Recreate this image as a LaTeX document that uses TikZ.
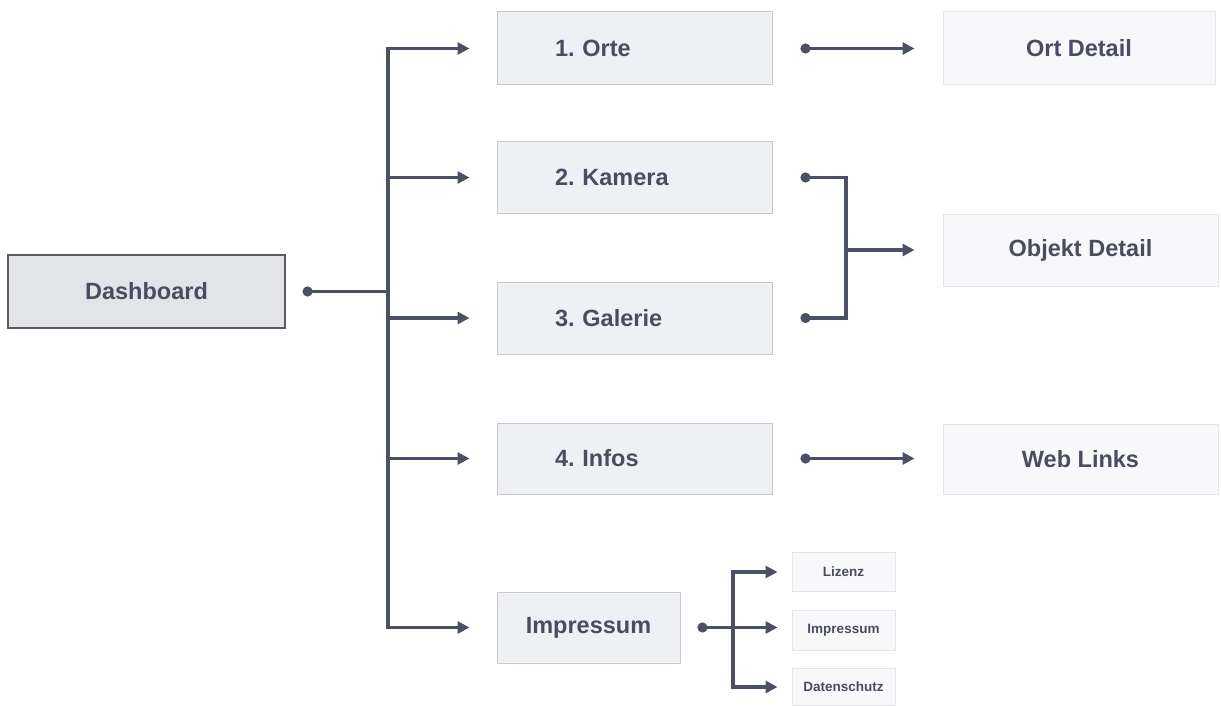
\documentclass[tikz,border=0pt]{standalone}
\usepackage{fontspec}
\setmainfont{Liberation Sans}
\usetikzlibrary{arrows.meta,calc}
\definecolor{linec}{HTML}{4B5067}
\definecolor{textc}{HTML}{494D60}
\definecolor{mainfill}{HTML}{E3E4E8}
\definecolor{mainborder}{HTML}{5C5C60}
\definecolor{pagefill}{HTML}{EFF0F4}
\definecolor{pageborder}{HTML}{C9C9CC}
\definecolor{subfill}{HTML}{F8F8FA}
\definecolor{subborder}{HTML}{E6E6E8}
\frenchspacing
\tikzset{
  x=1pt, y=-1pt,
  box/.style={rectangle, inner sep=0pt, font=\bfseries\fontsize{23.5}{26}\selectfont, text=textc},
  mainbox/.style={box, fill=mainfill, draw=mainborder, line width=1.2pt},
  pagebox/.style={box, fill=pagefill, draw=pageborder, line width=1pt},
  leftpage/.style={pagebox, text width=217pt, inner xsep=29pt, align=left},
  detailbox/.style={box, fill=subfill, draw=subborder, line width=1pt},
  smallbox/.style={detailbox, font=\bfseries\fontsize{13.5}{15}\selectfont, minimum width=103pt},
  link/.style={draw=linec, line width=3.2pt, line join=miter},
  tip/.tip={Triangle[length=12pt,width=12pt]},
  dot/.tip={Circle[length=10pt]},
  arr/.style={link, -tip},
  dotarr/.style={link, dot-tip},
  dotline/.style={link, dot-},
  dotdot/.style={link, dot-dot},
}
\begin{document}
\begin{tikzpicture}
\useasboundingbox (0,0) rectangle (1221,706);
\fill[white] (0,0) rectangle (1221,706);

% main page
\node[mainbox, minimum width=277pt, minimum height=73pt] (dash) at (146.5,291.5) {Dashboard};

% first level pages
\node[leftpage, minimum height=73pt] (orte)    at (634.5,48.5)  {\hspace*{29pt}1. Orte};
\node[leftpage, minimum height=71pt] (kamera)  at (634.5,177.5) {\hspace*{29pt}2. Kamera};
\node[leftpage, minimum height=72pt] (galerie) at (634.5,318)   {\hspace*{29pt}3. Galerie};
\node[leftpage, minimum height=71pt] (infos)   at (634.5,458.5) {\hspace*{29pt}4. Infos};
\node[pagebox, minimum width=183pt, minimum height=71pt] (impr) at (588.5,627.5) {Impressum};

% detail pages
\node[detailbox, minimum width=272pt, minimum height=73pt] (ortd) at (1079,48.5) {Ort Detail};
\node[detailbox, minimum width=275pt, minimum height=72pt] (objd) at (1080.5,250) {Objekt Detail};
\node[detailbox, minimum width=275pt, minimum height=70pt] (web)  at (1080.5,459) {Web Links};

% legal pages
\node[smallbox, minimum height=39pt] (lizenz) at (843.5,572) {Lizenz};
\node[smallbox, minimum height=40pt] (impr2)  at (843.5,630)   {Impressum};
\node[smallbox, minimum height=37pt] (daten)  at (843.5,687) {Datenschutz};

% trunk from the dashboard
\coordinate (t) at (388,0);
\draw[dotline] ([xshift=17pt]dash.east) -- (t |- dash.east);
\draw[arr] (t |- impr) -- (t |- orte) -- ([xshift=-27pt]orte.west);
\draw[arr] (t |- orte) -- (t |- impr) -- ([xshift=-27pt]impr.west);
\draw[arr] (t |- kamera) -- ([xshift=-27pt]kamera.west);
\draw[arr] (t |- galerie) -- ([xshift=-27pt]galerie.west);
\draw[arr] (t |- infos) -- ([xshift=-27pt]infos.west);

% links to detail pages
\draw[dotarr] ([xshift=28pt]orte.east) -- ([xshift=-28pt]orte.east -| ortd.west);
\coordinate (b) at (846,0);
\draw[dotdot] ([xshift=28pt]kamera.east) -| (b |- galerie.east) -- ([xshift=28pt]galerie.east);
\draw[arr] (b |- objd.west) -- ([xshift=-28pt]objd.west);
\draw[dotarr] ([xshift=28pt]infos.east) -- ([xshift=-28pt]infos.east -| web.west);

% legal sub pages
\coordinate (s) at (733,0);
\draw[dotarr] ([xshift=17pt]impr.east) -- ([xshift=-14pt]impr.east -| impr2.west);
\draw[arr] (s |- daten) -- (s |- lizenz) -- ([xshift=-14pt]lizenz.west);
\draw[arr] (s |- lizenz) -- (s |- daten) -- ([xshift=-14pt]daten.west);
\end{tikzpicture}
\end{document}
